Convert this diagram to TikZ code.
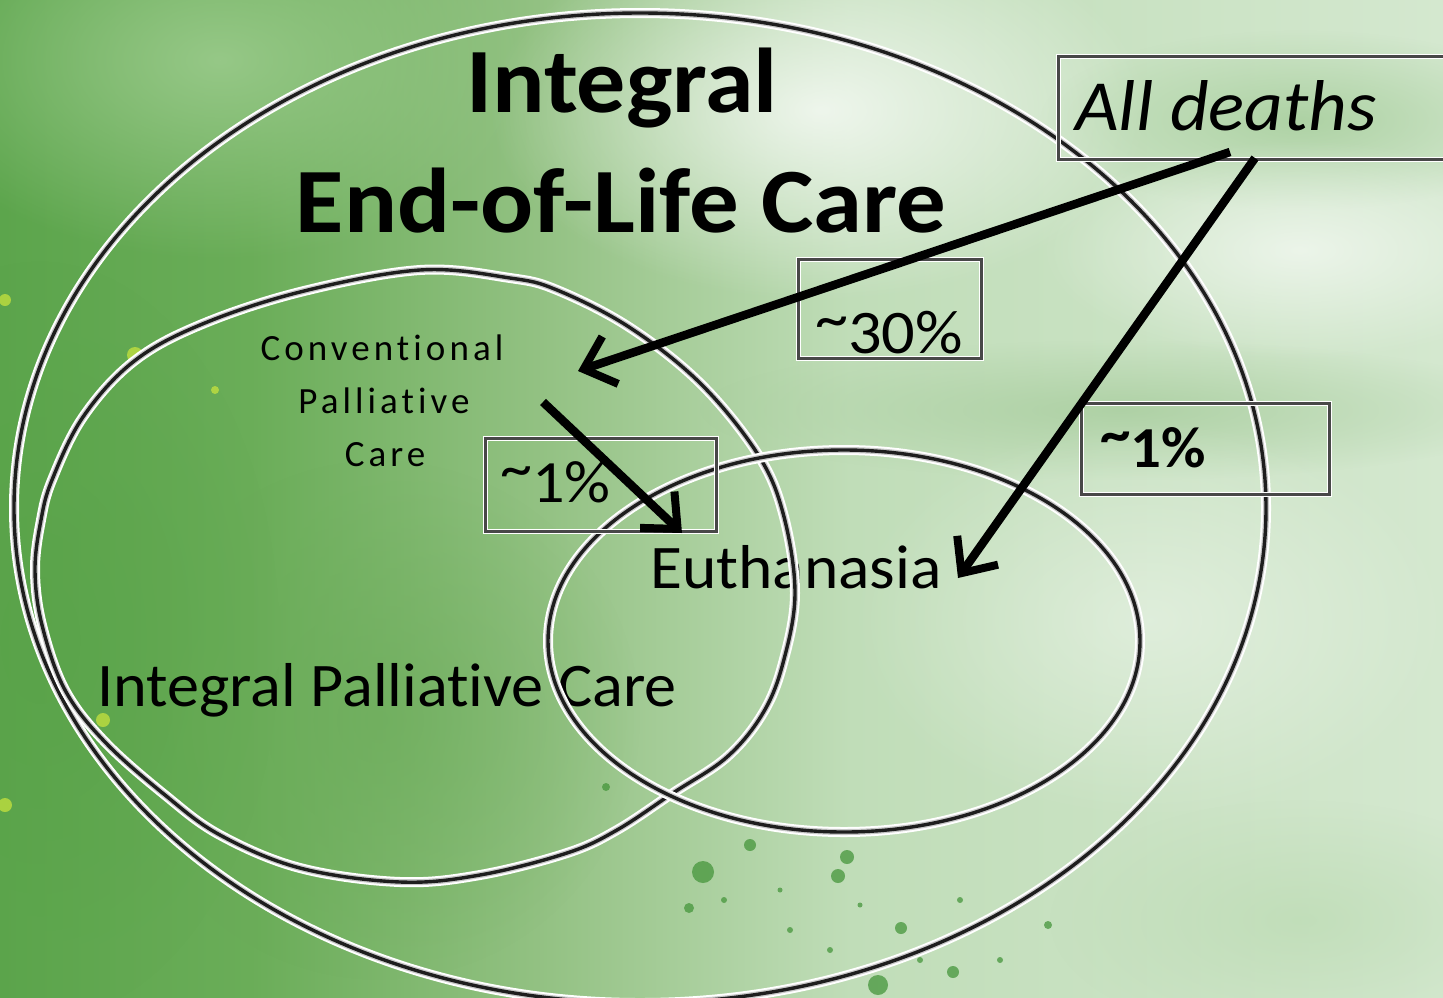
\documentclass[tikz,border=0pt]{standalone}
\usepackage{fontspec}
\setmainfont{Carlito}[Ligatures=NoCommon]
\usetikzlibrary{arrows.meta,fadings,shapes.geometric}
\definecolor{bgA}{RGB}{92,165,76}
\definecolor{bgB}{RGB}{106,173,88}
\definecolor{bgC}{RGB}{148,194,132}
\definecolor{bgD}{RGB}{192,221,184}
\definecolor{bgE}{RGB}{212,232,207}
\definecolor{blA}{RGB}{150,200,135}
\definecolor{blB}{RGB}{88,162,72}
\definecolor{blC}{RGB}{106,171,88}
\definecolor{blD}{RGB}{170,208,160}
\definecolor{blE}{RGB}{168,205,158}
\definecolor{blF}{RGB}{180,215,170}
\definecolor{yel}{RGB}{205,230,60}
\definecolor{ringdark}{RGB}{30,30,30}
\definecolor{ringgray}{RGB}{200,200,200}
\definecolor{boxgray}{RGB}{72,72,72}
\definecolor{splat}{RGB}{70,150,60}
\tikzfading[name=softblob, inner color=transparent!0, outer color=transparent!100]
\pgfdeclarehorizontalshading{bgshade}{100bp}{color(0bp)=(bgA); color(25bp)=(bgA); color(33.66bp)=(bgB); color(44.06bp)=(bgC); color(54.45bp)=(bgD); color(75bp)=(bgE); color(100bp)=(bgE)}
\tikzset{
  ring/.style={draw=ringdark, line width=3.4pt,
    preaction={draw=white, line width=10pt},
    preaction={draw=ringgray, line width=6pt}},
  boxnode/.style={draw=boxgray, line width=3pt, inner sep=0pt, anchor=north west,
    preaction={draw=white, line width=5pt}},
  bigarrow/.style={line width=8.5pt, draw=black,
    -{Straight Barb[length=28pt, width=50pt, line width=8pt]}},
  blob/.style={path fading=softblob},
  txt/.style={inner sep=0pt, text=black}
}
\newcommand{\tl}{\raisebox{14pt}{\textasciitilde}}
\newcommand{\hstretch}[2]{\scalebox{#1}[1]{#2}}
\begin{document}
\begin{tikzpicture}[x=1pt,y=-1pt]
\useasboundingbox (0,0) rectangle (1443,997);
% background watercolor
\shade[shading=bgshade] (0,0) rectangle (1443,997);
\fill[blob, blA] (220,60) ellipse [x radius=330, y radius=200];
\fill[blob, blB, fill opacity=0.6] (40,640) ellipse [x radius=240, y radius=380];
\fill[blob, blC, fill opacity=0.6] (380,720) ellipse [x radius=260, y radius=260];
\fill[blob, white, fill opacity=0.75] (820,110) ellipse [x radius=330, y radius=190];
\fill[blob, blD, fill opacity=0.9] (1300,120) ellipse [x radius=260, y radius=90];
\fill[blob, white, fill opacity=0.6] (1300,250) ellipse [x radius=260, y radius=110];
\fill[blob, blE, fill opacity=0.8] (1120,410) ellipse [x radius=420, y radius=70];
\fill[blob, white, fill opacity=0.4] (1150,620) ellipse [x radius=300, y radius=200];
\fill[blob, blF, fill opacity=0.5] (1300,920) ellipse [x radius=250, y radius=120];
% splatter dots
\foreach \x/\y/\r in {703/872/11,750/845/6,847/857/7,838/876/7,689/908/5,606/787/4,878/985/10,901/928/6,953/972/6,1048/925/4,724/900/3,790/930/3,830/950/3,960/900/3,780/890/2.5,860/905/2.5,1000/960/3,920/960/3}
  \fill[splat, fill opacity=0.75] (\x,\y) circle [radius=\r];
\foreach \x/\y/\r in {5/300/6,5/805/7,135/355/8,215/390/4,103/720/7}
  \fill[yel, fill opacity=0.7] (\x,\y) circle [radius=\r];
% texts
\node[txt, anchor=base, font=\fontsize{92}{92}\selectfont\bfseries] (ttop) at (622,112) {\hstretch{1.065}{Integral}};
\node[txt, anchor=base, font=\fontsize{92}{92}\selectfont\bfseries] (tmid) at (621,232) {\hstretch{1.075}{End-of-Life Care}};
\node[txt, anchor=base, font=\fontsize{37}{37}\selectfont\addfontfeature{LetterSpace=11}] (cpc1) at (382,360) {Conventional};
\node[txt, anchor=base, font=\fontsize{37}{37}\selectfont\addfontfeature{LetterSpace=11}] (cpc2) at (384,413) {Palliative};
\node[txt, anchor=base, font=\fontsize{37}{37}\selectfont\addfontfeature{LetterSpace=11}] (cpc3) at (385,466) {Care};
\node[txt, anchor=base west, font=\fontsize{62}{62}\selectfont] (ipc) at (97,706) {\hstretch{1.035}{Integral Palliative Care}};
\node[txt, anchor=base west, font=\fontsize{62}{62}\selectfont] (eut) at (650,588) {\hstretch{1.055}{Euthanasia}};
% rings
\node[ring, ellipse, inner sep=0pt, minimum width=1252pt, minimum height=990pt] (outer) at (640,508) {};
\draw[ring] plot[smooth cycle, tension=0.6] coordinates {(420,270) (510,278) (557,290) (629,327) (700,383) (757,453) (783,513) (795,593) (783,663) (763,713) (727,757) (673,793) (617,830) (567,853) (480,875) (400,882) (300,868) (220,835) (165,795) (105,742) (65,690) (42,625) (35,570) (41,520) (52,480) (83,417) (133,362) (200,325) (300,292)};
\node[ring, ellipse, inner sep=0pt, minimum width=592pt, minimum height=382pt] (euell) at (844,641) {};
% boxes
\node[boxnode, minimum width=403pt, minimum height=103pt] (bad) at (1057,55) {};
\node[boxnode, minimum width=183pt, minimum height=99pt] (b30) at (797,258) {};
\node[boxnode, minimum width=231pt, minimum height=93pt] (b1l) at (484,437) {};
\node[boxnode, minimum width=248pt, minimum height=91pt] (b1r) at (1080,402) {};
% box labels
\node[txt, anchor=base west, font=\fontsize{72}{72}\selectfont\itshape] (alld) at (1075,130) {\hstretch{1.045}{All deaths}};
\node[txt, anchor=base west, font=\fontsize{62}{62}\selectfont] (p30) at (815,353) {\hstretch{1.07}{\tl30\%}};
\node[txt, anchor=base west, font=\fontsize{60}{60}\selectfont] (p1l) at (500,502) {\hstretch{1.07}{\tl1\%}};
\node[txt, anchor=base west, font=\fontsize{58}{58}\selectfont\bfseries] (p1r) at (1100,467) {\hstretch{1.05}{\tl1\%}};
% arrows
\coordinate (s1) at (1230,152);
\coordinate (e1) at (578,371);
\coordinate (s2) at (1255,158);
\coordinate (e2) at (958,578);
\coordinate (s3) at (543,402);
\coordinate (e3) at (682,533);
\draw[bigarrow] (s1) -- (e1);
\draw[bigarrow] (s2) -- (e2);
\draw[bigarrow] (s3) -- (e3);
\end{tikzpicture}
\end{document}
